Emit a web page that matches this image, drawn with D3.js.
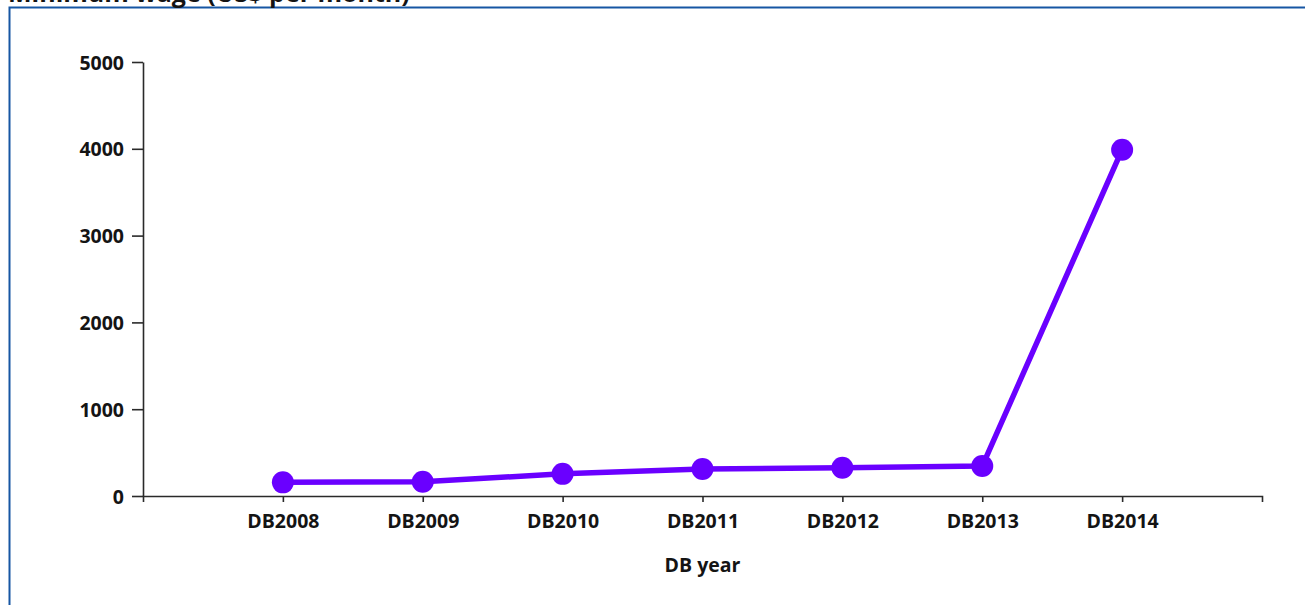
<!DOCTYPE html>
<html>
<head>
<meta charset="utf-8">
<script src="https://cdn.jsdelivr.net/npm/d3@7"></script>
<style>
  html, body { margin: 0; padding: 0; background: #ffffff; }
  svg { display: block; }
  .tick text { font-family: "Open Sans", "DejaVu Sans", sans-serif; font-weight: bold; font-size: 19.5px; fill: #141414; }
</style>
</head>
<body>
<svg id="chart" width="1305" height="605"></svg>
<script>
const title = "Minimum wage (US$ per month)";
const xTitle = "DB year";
const categories = ["DB2008", "DB2009", "DB2010", "DB2011", "DB2012", "DB2013", "DB2014"];
const values = [157, 165, 255, 310, 325, 345, 3990];
const yTicks = [0, 1000, 2000, 3000, 4000, 5000];

const svg = d3.select("#chart");
const W = 1305, H = 605;
const margin = { left: 143, right: 43, top: 62, bottom: 109 };

// frame
svg.append("path")
  .attr("d", `M9.5,${H} V7.5 H${W}`)
  .attr("fill", "none")
  .attr("stroke", "#1656a3")
  .attr("stroke-width", 2);

// title (partly cut off at top, as in the reference)
svg.append("text")
  .attr("x", 8)
  .attr("y", 2)
  .attr("font-family", "Open Sans, DejaVu Sans, sans-serif")
  .attr("font-weight", "bold")
  .attr("font-size", 25)
  .attr("fill", "#141414")
  .text(title);

const x = d3.scalePoint()
  .domain(categories)
  .range([margin.left, W - margin.right])
  .padding(1);

const y = d3.scaleLinear()
  .domain([0, 5000])
  .range([H - margin.bottom, margin.top]);

const xAxis = svg.append("g")
  .attr("transform", `translate(0,${H - margin.bottom})`)
  .call(d3.axisBottom(x).tickSize(6).tickSizeOuter(6).tickPadding(12));

const yAxis = svg.append("g")
  .attr("transform", `translate(${margin.left},0)`)
  .call(d3.axisLeft(y).tickValues(yTicks).tickFormat(d3.format("d")).tickSize(11).tickSizeOuter(0).tickPadding(8));

[xAxis, yAxis].forEach(g => {
  g.selectAll("path.domain").attr("stroke", "#2a2a2a").attr("stroke-width", 1.6);
  g.selectAll(".tick line").attr("stroke", "#2a2a2a").attr("stroke-width", 1.6);
  g.attr("font-size", null).attr("font-family", null);
});
yAxis.selectAll(".tick text").attr("dy", "0.36em");

// axis title
svg.append("text")
  .attr("x", x("DB2011"))
  .attr("y", 572)
  .attr("text-anchor", "middle")
  .attr("font-family", "Open Sans, DejaVu Sans, sans-serif")
  .attr("font-weight", "bold")
  .attr("font-size", 19.5)
  .attr("fill", "#141414")
  .text(xTitle);

const data = categories.map((c, i) => ({ c, v: values[i] }));
const color = "#6a00ff";

svg.append("path")
  .datum(data)
  .attr("fill", "none")
  .attr("stroke", color)
  .attr("stroke-width", 5.5)
  .attr("stroke-linejoin", "round")
  .attr("d", d3.line().x(d => x(d.c)).y(d => y(d.v)));

svg.selectAll("circle.pt")
  .data(data)
  .join("circle")
  .attr("class", "pt")
  .attr("cx", d => x(d.c))
  .attr("cy", d => y(d.v))
  .attr("r", 11)
  .attr("fill", color);
</script>
</body>
</html>
